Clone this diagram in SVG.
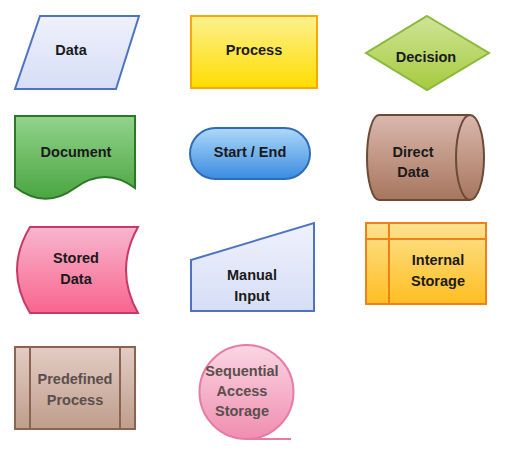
<svg xmlns="http://www.w3.org/2000/svg" width="517" height="457" viewBox="0 0 517 457">
<defs>
<linearGradient id="gLav" x1="0" y1="0" x2="0" y2="1"><stop offset="0" stop-color="#eff1fb"/><stop offset="1" stop-color="#d6def7"/></linearGradient>
<linearGradient id="gYel" x1="0" y1="0" x2="0" y2="1"><stop offset="0" stop-color="#fdf18e"/><stop offset="1" stop-color="#ffdd00"/></linearGradient>
<linearGradient id="gGrn" x1="0" y1="0" x2="0" y2="1"><stop offset="0" stop-color="#cfe497"/><stop offset="1" stop-color="#a6cb3e"/></linearGradient>
<linearGradient id="gDoc" x1="0" y1="0" x2="0" y2="1"><stop offset="0" stop-color="#92d38c"/><stop offset="1" stop-color="#4aa540"/></linearGradient>
<linearGradient id="gBlu" x1="0" y1="0" x2="0" y2="1"><stop offset="0" stop-color="#aed8fa"/><stop offset="1" stop-color="#3a8ce0"/></linearGradient>
<linearGradient id="gBrn" x1="0" y1="0" x2="0" y2="1"><stop offset="0" stop-color="#dbb8ad"/><stop offset="1" stop-color="#a6765e"/></linearGradient>
<linearGradient id="gPnk" x1="0" y1="0" x2="0" y2="1"><stop offset="0" stop-color="#f8b6cf"/><stop offset="1" stop-color="#f8658e"/></linearGradient>
<linearGradient id="gOrg" x1="0" y1="0" x2="0" y2="1"><stop offset="0" stop-color="#fde28f"/><stop offset="1" stop-color="#ffbe22"/></linearGradient>
<linearGradient id="gTan" x1="0" y1="0" x2="0" y2="1"><stop offset="0" stop-color="#e3ccc4"/><stop offset="1" stop-color="#bf9e8c"/></linearGradient>
<linearGradient id="gRose" x1="0" y1="0" x2="0" y2="1"><stop offset="0" stop-color="#fad6e3"/><stop offset="1" stop-color="#f08eb0"/></linearGradient>
</defs>
<style>
text{font-family:"Liberation Sans",Arial,sans-serif;font-weight:bold;font-size:14.5px;fill:#1a1a1a;text-anchor:middle}
.gray{fill:#5a4f4c}
.s{stroke-width:2;stroke-linejoin:miter}
</style>
<g id="data">
<polygon class="s" points="40,16 139,16 116,89 15,89" fill="url(#gLav)" stroke="#4d73c2"/>
<text x="71" y="55">Data</text>
</g>
<g id="process">
<rect class="s" x="191" y="16" width="126" height="72" fill="url(#gYel)" stroke="#f8a800"/>
<text x="254" y="55">Process</text>
</g>
<g id="decision">
<polygon class="s" points="427,16 489,53 427,90 366,53" fill="url(#gGrn)" stroke="#8ab93a"/>
<text x="426" y="62">Decision</text>
</g>
<g id="document">
<path class="s" d="M15,116 H135 V188 Q105,166 75,188 Q45,210 15,187 Z" fill="url(#gDoc)" stroke="#2c7826"/>
<text x="76" y="157">Document</text>
</g>
<g id="startend">
<rect class="s" x="190" y="128" width="120" height="51" rx="25.5" fill="url(#gBlu)" stroke="#2e6cb6"/>
<text x="250" y="157">Start / End</text>
</g>
<g id="directdata">
<path class="s" d="M379,115 L470,115 A14,42.5 0 0 1 470,200 L379,200 A12,42.5 0 0 1 379,115 Z" fill="url(#gBrn)" stroke="#6b4a38"/>
<path class="s" d="M470,115 A14,42.5 0 0 0 470,200" fill="none" stroke="#6b4a38"/>
<text x="413" y="157">Direct</text>
<text x="413" y="177">Data</text>
</g>
<g id="storeddata">
<path class="s" d="M30,227 L138,227 Q114,270 138,313 L30,313 Q4,270 30,227 Z" fill="url(#gPnk)" stroke="#c83868"/>
<text x="76" y="263">Stored</text>
<text x="76" y="284">Data</text>
</g>
<g id="manualinput">
<polygon class="s" points="191,260 314,223 314,311 191,311" fill="url(#gLav)" stroke="#4d73c2"/>
<text x="252" y="280">Manual</text>
<text x="252" y="301">Input</text>
</g>
<g id="internalstorage">
<rect class="s" x="366" y="223" width="120" height="81" fill="url(#gOrg)" stroke="#f08018"/>
<path class="s" d="M366,239 H486 M389,223 V304" fill="none" stroke="#f08018"/>
<text x="438" y="265">Internal</text>
<text x="438" y="286">Storage</text>
</g>
<g id="predefinedprocess">
<rect class="s" x="15" y="347" width="120" height="82" fill="url(#gTan)" stroke="#8a6450"/>
<path class="s" d="M30,347 V429 M120,347 V429" fill="none" stroke="#8a6450"/>
<text class="gray" x="75" y="384">Predefined</text>
<text class="gray" x="75" y="405">Process</text>
</g>
<g id="sequentialaccess">
<circle class="s" cx="246.5" cy="392" r="47" fill="url(#gRose)" stroke="#e87aa6"/>
<path class="s" d="M246.5,439 H291" fill="none" stroke="#e87aa6"/>
<text class="gray" x="242" y="376">Sequential</text>
<text class="gray" x="242" y="396">Access</text>
<text class="gray" x="242" y="416">Storage</text>
</g>
<g id="connectors"></g>
</svg>
